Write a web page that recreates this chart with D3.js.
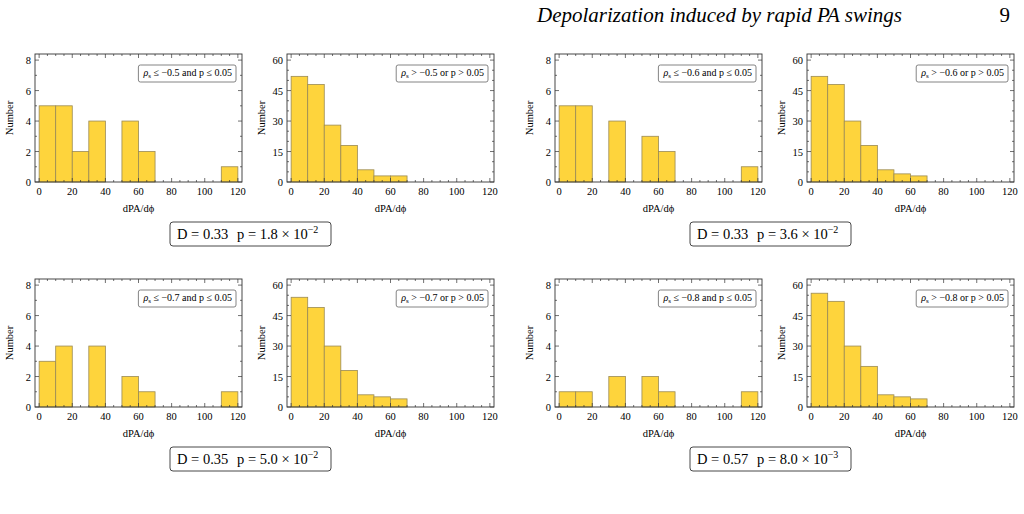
<!DOCTYPE html><html><head><meta charset="utf-8"><script src="https://cdn.jsdelivr.net/npm/d3@7"></script>
<style>body{margin:0;background:#fff}text{font-family:"Liberation Serif","DejaVu Serif",serif}</style></head><body>
<svg id="c" width="1024" height="514"></svg>
<script>
const binEdges=[0,10,20,30,40,50,60,70,80,90,100,110,120];
const thresholds=["-0.5","-0.6","-0.7","-0.8"];
const sigCounts=[[5,5,2,4,0,4,2,0,0,0,0,1],[5,5,0,4,0,3,2,0,0,0,0,1],[3,4,0,4,0,2,1,0,0,0,0,1],[1,1,0,2,0,2,1,0,0,0,0,1]];
const restCounts=[[52,48,28,18,6,3,3,0,0,0,0,0],[52,48,30,18,6,4,3,0,0,0,0,0],[54,49,30,18,6,5,4,0,0,0,0,0],[56,52,30,20,6,5,4,0,0,0,0,0]];
const dVals=["0.33","0.33","0.35","0.57"];
const pMant=["1.8","3.6","5.0","8.0"];const pExp=["\u22122","\u22122","\u22122","\u22123"];
const xTicks=[0,20,40,60,80,100,120];
const ySigTicks=[0,2,4,6,8];const yRestTicks=[0,15,30,45,60];
const svg=d3.select("#c");
svg.append("text").attr("x",537).attr("y",22).attr("font-size",21).attr("font-style","italic").text("Depolarization induced by rapid PA swings");
svg.append("text").attr("x",1010).attr("y",22).attr("font-size",21).attr("text-anchor","end").text("9");
const W=207,H=128;
function panel(x0,y0,counts,ymax,yt,ymin,label){
 const g=svg.append("g").attr("transform",`translate(${x0},${y0})`);
 const x=d3.scaleLinear().domain([-2.5,122.5]).range([0,W]);
 const y=d3.scaleLinear().domain([0,ymax]).range([H,0]);
 g.selectAll("rect.b").data(counts.map((c,i)=>({c,i})).filter(d=>d.c>0)).enter().append("rect")
  .attr("x",d=>x(binEdges[d.i])).attr("width",d=>x(binEdges[d.i+1])-x(binEdges[d.i]))
  .attr("y",d=>y(d.c)).attr("height",d=>y(0)-y(d.c)).attr("fill","#FED43C").attr("stroke","#9a8a55").attr("stroke-width",0.8);
 g.append("rect").attr("width",W).attr("height",H).attr("fill","none").attr("stroke","#333").attr("stroke-width",0.9);
 const tk=(x1,y1,x2,y2)=>g.append("line").attr("x1",x1).attr("y1",y1).attr("x2",x2).attr("y2",y2).attr("stroke","#333").attr("stroke-width",0.7);
 d3.range(0,121,5).forEach(v=>{const L=v%20==0?4:2;tk(x(v),H,x(v),H-L);tk(x(v),0,x(v),L);});
 d3.range(0,ymax,ymin).forEach(v=>{const L=yt.includes(v)?4:2;tk(0,y(v),L,y(v));tk(W,y(v),W-L,y(v));});
 g.selectAll("text.xt").data(xTicks).enter().append("text").attr("x",d=>x(d)).attr("y",H+13).attr("text-anchor","middle").attr("font-size",10.5).text(d=>d);
 g.selectAll("text.yt").data(yt).enter().append("text").attr("x",-4).attr("y",d=>y(d)+4).attr("text-anchor","end").attr("font-size",10.5).text(d=>d);
 g.append("text").attr("x",W/2).attr("y",H+30).attr("text-anchor","middle").attr("font-size",10.5).text("dPA/d\u03D5");
 g.append("text").attr("transform",`translate(-22,${H/2}) rotate(-90)`).attr("text-anchor","middle").attr("font-size",10.5).text("Number");
 const t=g.append("text").attr("x",W-10).attr("y",22).attr("text-anchor","end").attr("font-size",10);
 label(t);
 const bb=t.node().getBBox();
 g.insert("rect","text").attr("x",bb.x-4).attr("y",bb.y-2).attr("width",bb.width+8).attr("height",bb.height+4).attr("rx",2).attr("fill","#fff").attr("stroke","#666").attr("stroke-width",0.8);
}
const gx=[35,555],gy=[54,279];
for(let k=0;k<4;k++){
 const cx=gx[k%2],cy=gy[Math.floor(k/2)],th=thresholds[k];
 panel(cx,cy,sigCounts[k],8.4,ySigTicks,1,t=>{t.append("tspan").attr("font-style","italic").text("\u03C1");t.append("tspan").attr("font-size",7).attr("dy",2).text("s");t.append("tspan").attr("dy",-2).text(" \u2264 "+th.replace("-","\u2212")+" and p \u2264 0.05");});
 panel(cx+252,cy,restCounts[k],63,yRestTicks,5,t=>{t.append("tspan").attr("font-style","italic").text("\u03C1");t.append("tspan").attr("font-size",7).attr("dy",2).text("s");t.append("tspan").attr("dy",-2).text(" > "+th.replace("-","\u2212")+" or p > 0.05");});
 const bx=cx+135,by=cy+168;
 svg.append("rect").attr("x",bx).attr("y",by).attr("width",161).attr("height",24).attr("rx",3).attr("fill","#fff").attr("stroke","#333").attr("stroke-width",0.9);
 const tt=svg.append("text").attr("x",bx+7).attr("y",by+17).attr("font-size",14.5);
 tt.append("tspan").text("D = "+dVals[k]);
 tt.append("tspan").attr("x",bx+67).text("p = "+pMant[k]+" \u00D7 10");
 tt.append("tspan").attr("font-size",10).attr("dy",-6).text(pExp[k]);
}
</script></body></html>
